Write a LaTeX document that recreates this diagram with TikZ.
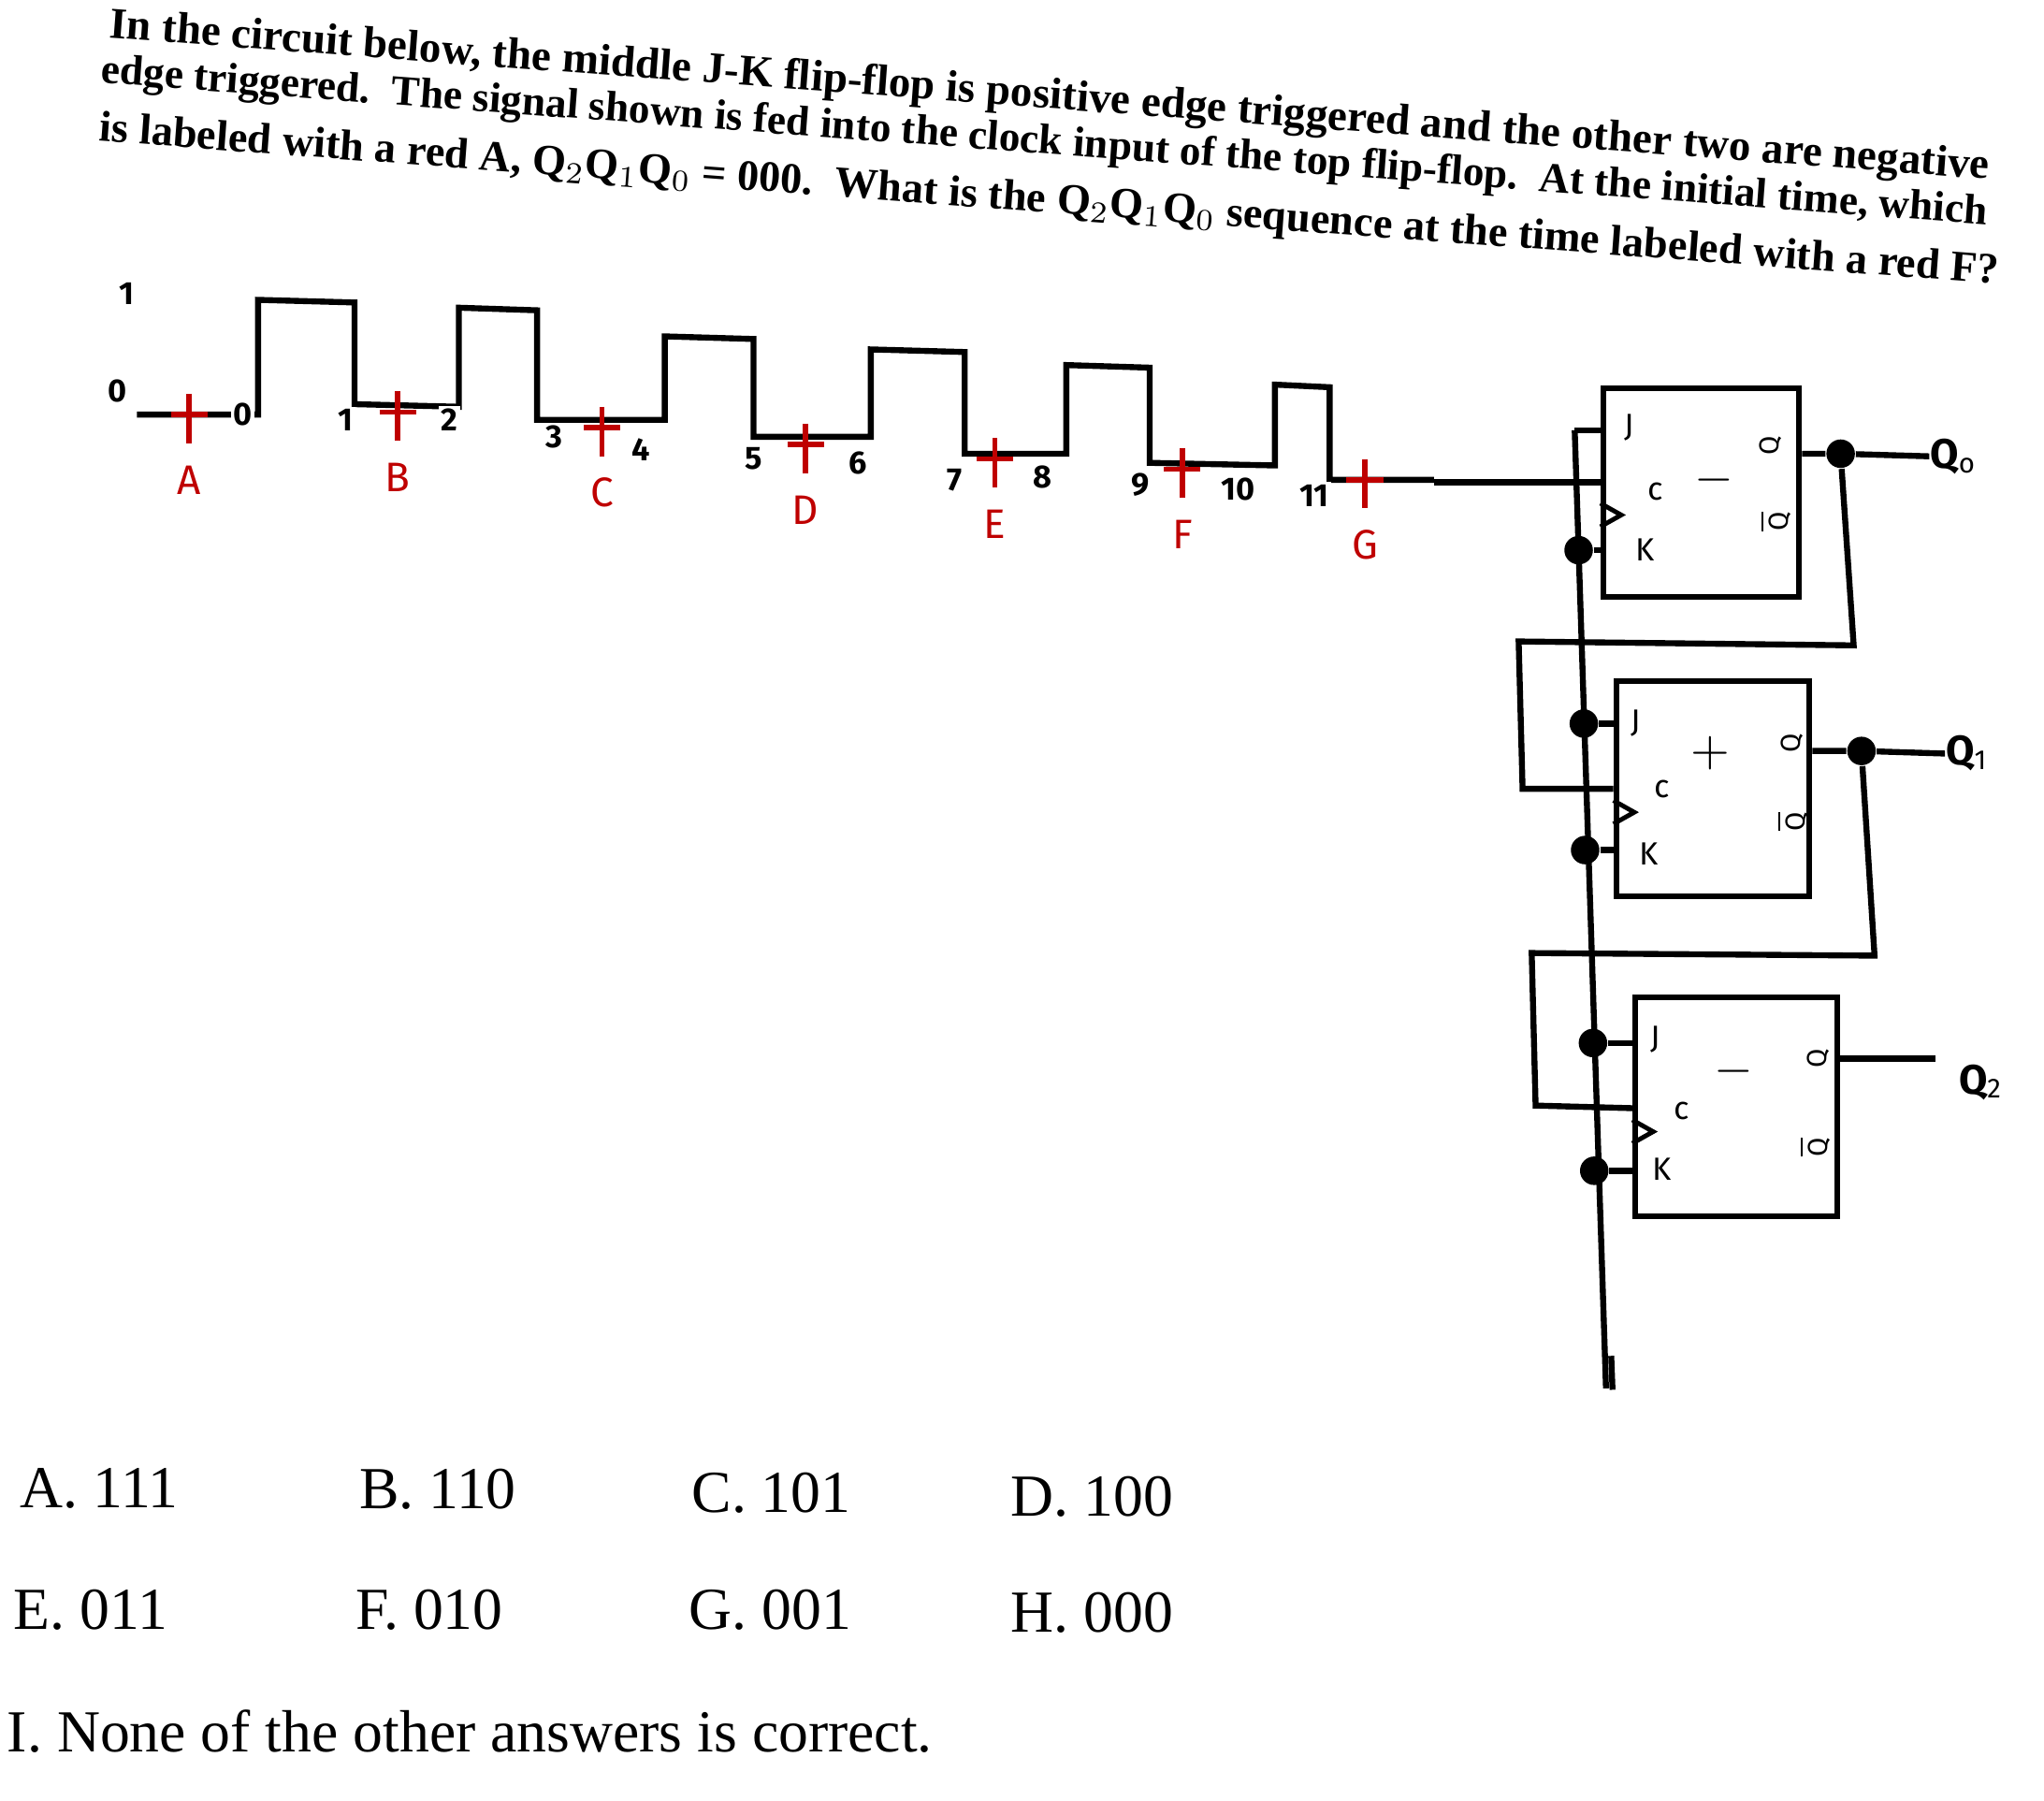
\documentclass[tikz,border=0pt]{standalone}
\usepackage{fontspec}
\usepackage{graphicx}
\setmainfont{Liberation Serif}
\setsansfont{Fira Sans}
\begin{document}
\begin{tikzpicture}[x=0.01cm,y=-0.01cm,
  hd/.style={anchor=center,rotate=-4.3,inner sep=0},
  ans/.style={anchor=west,font=\fontsize{13}{15}\selectfont,inner sep=0},
  hw/.style={font=\sffamily\fontsize{7}{8}\selectfont,inner sep=0},
  ql/.style={font=\sffamily\fontsize{9}{10}\selectfont\bfseries,inner sep=0,anchor=west},
  rl/.style={font=\sffamily\fontsize{9}{10}\selectfont,text=red!75!black,inner sep=0},
  tk/.style={red!75!black,line width=1.1pt},
  wire/.style={line width=1.3pt},
  ff/.style={draw,line width=1.3pt,minimum width=1.5cm,minimum height=1.6cm,inner sep=0},
  dot/.style={circle,fill,inner sep=2.2pt}]
\path[use as bounding box,fill=white] (0,0) rectangle (1568,1381);
% heading
\node[hd] (h1) at (805,75) {\resizebox{14.45cm}{!}{\bfseries In the circuit below, the middle J-K flip-flop is positive edge triggered and the other two are negative}};
\node[hd] (h2) at (801,110) {\resizebox{14.5cm}{!}{\bfseries edge triggered.\ \ The signal shown is fed into the clock input of the top flip-flop.\ \ At the initial time, which}};
\node[hd] (h3) at (805,155) {\resizebox{14.6cm}{!}{\bfseries is labeled with a red A, Q$_2$Q$_1$Q$_0$ = 000.\ \ What is the Q$_2$Q$_1$Q$_0$ sequence at the time labeled with a red F?}};
% waveform
\node[hw] (one) at (97,225) {\bfseries 1};
\node[hw] (zero) at (90,300) {\bfseries 0};
\draw[wire] (105,318)--(198,318)--(198,230)--(272,232)--(272,310)--(352,312)--(352,236)--(412,238)--(412,322)--(510,322)--(510,258)--(578,260)--(578,335)--(668,335)--(668,268)--(740,270)--(740,348)--(818,348)--(818,280)--(882,282)--(882,355)--(978,357)--(978,295)--(1020,297)--(1020,368)--(1100,368);
\coordinate (sigend) at (1100,370);
\foreach \x/\y/\l in {145/318/A,305/316/B,462/328/C,618/341/D,763/352/E,907/360/F,1047/368/G}{
  \draw[tk] (\x,\y-16)--(\x,\y+22);
  \draw[tk] (\x-14,\y)--(\x+14,\y);
  \node[rl] (lab\l) at (\x,\y+50) {\l};}
\foreach \x/\y/\n in {186/318/0,265/322/1,345/322/2,425/335/3,492/345/4,578/352/5,658/355/6,732/368/7,800/366/8,875/372/9,950/375/10,1008/380/11}{
  \node[hw,fill=white,inner sep=0.5pt] (n\n) at (\x,\y) {\bfseries\n};}
% flip-flops
\node[ff] (ff0) at (1305,378) {};
\node[ff,minimum width=1.48cm,minimum height=1.65cm] (ff1) at (1314,605) {};
\node[ff,minimum width=1.55cm,minimum height=1.68cm] (ff2) at (1332,849) {};
\foreach \f/\jx/\jy/\cx/\cy/\kx/\ky/\sx/\sy/\s/\qx/\qy/\bx/\by in
 {0/1250/328/1270/377/1262/422/1315/368/$-$/1358/342/1362/400,
  1/1255/555/1275/605/1265/655/1312/578/$+$/1375/570/1375/630,
  2/1270/797/1290/852/1275/897/1330/822/$-$/1395/812/1392/880}{
  \node[hw] (J\f) at (\jx,\jy) {J};
  \node[hw] (C\f) at (\cx,\cy) {c};
  \node[hw] (K\f) at (\kx,\ky) {K};
  \node[hw,font=\sffamily\fontsize{11}{12}\selectfont] (S\f) at (\sx,\sy) {\s};
  \node[hw,rotate=90,font=\sffamily\fontsize{6}{7}\selectfont] (Q\f) at (\qx,\qy) {Q};
  \node[hw,rotate=90,font=\sffamily\fontsize{6}{7}\selectfont] (B\f) at (\bx,\by) {$\overline{\mathsf{Q}}$};}
% clock triangles
\foreach \f/\cy in {0/377,1/605,2/850}{
  \draw[line width=1pt] ([yshift=-0.09cm]ff\f.west |- 0,\cy) -- ++(16,9) -- ++(-16,9);}
% rail
\coordinate (railtop) at (1208,330);
\coordinate (railbot) at (1232,1065);
\draw[wire] (railtop)--(railbot);
\draw[wire] (1236,1040)--(1237,1066);
\node[dot] (d0k) at (1211,422) {};
\node[dot] (d1j) at (1215,555) {};
\node[dot] (d1k) at (1216,652) {};
\node[dot] (d2j) at (1222,800) {};
\node[dot] (d2k) at (1223,898) {};
\draw[wire] (railtop)--(ff0.west|-railtop);
\draw[wire] (d0k)--(ff0.west|-d0k);
\draw[wire] (d1j)--(ff1.west|-d1j);
\draw[wire] (d1k)--(ff1.west|-d1k);
\draw[wire] (d2j)--(ff2.west|-d2j);
\draw[wire] (d2k)--(ff2.west|-d2k);
% clock
\draw[wire] (sigend)--(ff0.west|-sigend);
% Q0
\node[dot] (q0d) at (1412,348) {};
\node[ql] (Q0l) at (1480,350) {Q$_\mathsf{o}$};
\draw[wire] (ff0.east|-q0d)--(q0d)--(Q0l.west);
\draw[wire] (q0d)--(1422,495)--(1165,492)--(1168,605)--(ff1.west|-0,605);
% Q1
\node[dot] (q1d) at (1428,576) {};
\node[ql] (Q1l) at (1492,578) {Q$_\mathsf{1}$};
\draw[wire] (ff1.east|-q1d)--(q1d)--(Q1l.west);
\draw[wire] (q1d)--(1438,733)--(1175,731)--(1178,848)--(ff2.west|-0,850);
% Q2
\node[ql] (Q2l) at (1502,830) {Q$_\mathsf{2}$};
\draw[wire] (ff2.east|-0,812)--(1485,812);
% answers
\node[ans] (aA) at (15,1142) {A. 111};
\node[ans] (aB) at (275,1142) {B. 110};
\node[ans] (aC) at (530,1145) {C. 101};
\node[ans] (aD) at (775,1148) {D. 100};
\node[ans] (aE) at (10,1235) {E. 011};
\node[ans] (aF) at (272,1235) {F. 010};
\node[ans] (aG) at (528,1235) {G. 001};
\node[ans] (aH) at (775,1237) {H. 000};
\node[ans] (aI) at (5,1328) {I. None of the other answers is correct.};
\end{tikzpicture}
\end{document}
